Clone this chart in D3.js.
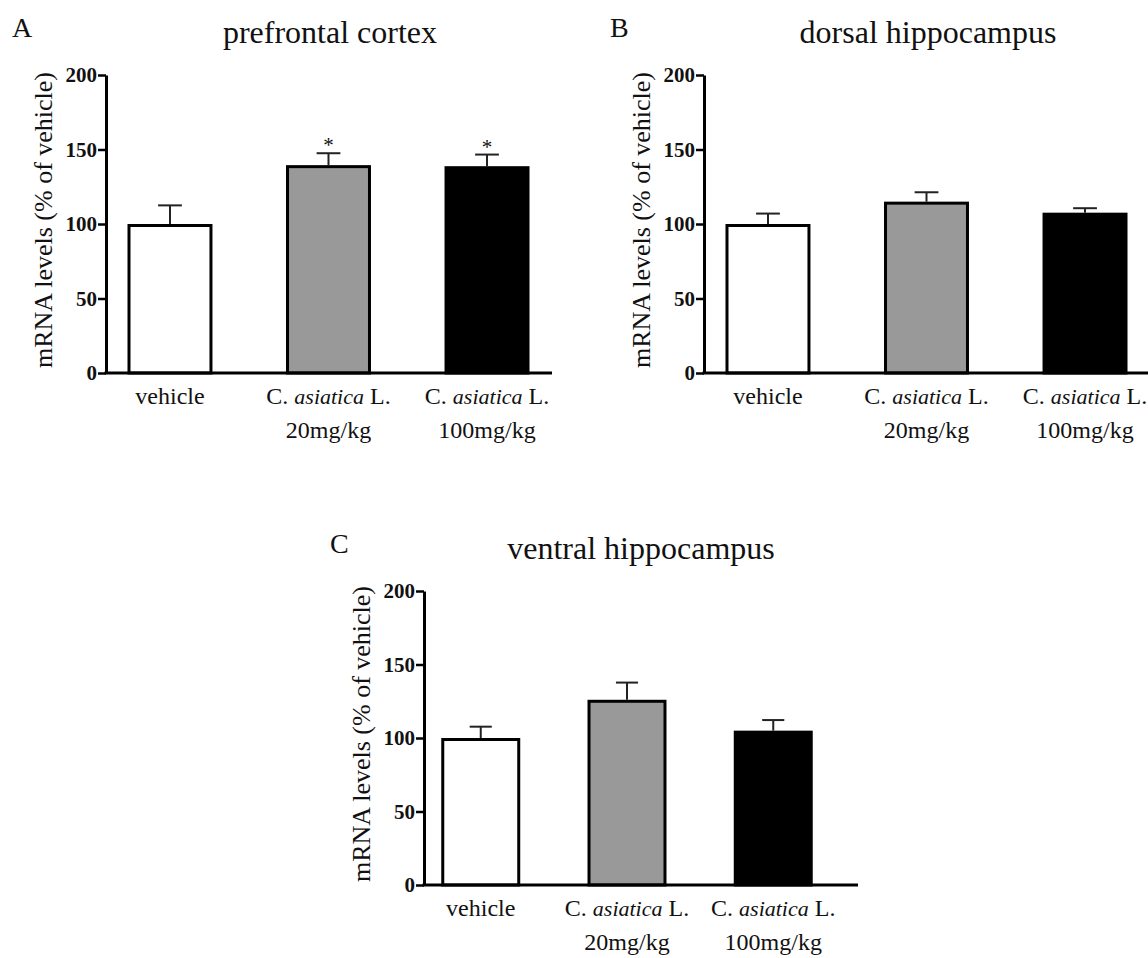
<!DOCTYPE html>
<html>
<head>
<meta charset="utf-8">
<script src="https://cdn.jsdelivr.net/npm/d3@7"></script>
<style>
  html, body { margin: 0; padding: 0; background: #fff; }
  svg { display: block; }
  text { font-family: "Liberation Serif", "Times New Roman", serif; fill: #111; }
</style>
</head>
<body>
<svg id="chart" width="1148" height="958"></svg>
<script>
// ---------- data ----------
const categories = ["vehicle", "C. asiatica L. 20mg/kg", "C. asiatica L. 100mg/kg"];
const labelLine1 = [
  [{ t: "vehicle" }],
  [{ t: "C. " }, { t: "asiatica", italic: true }, { t: " L." }],
  [{ t: "C. " }, { t: "asiatica", italic: true }, { t: " L." }]
];
const labelLine2 = ["", "20mg/kg", "100mg/kg"];
const barFills = ["#ffffff", "#999999", "#000000"];
const yTicks = [0, 50, 100, 150, 200];
const yAxisTitle = "mRNA levels (% of vehicle)";

const prefrontalMean = [100, 139.5, 138.8];
const prefrontalSem  = [12.5, 8.0, 7.8];
const prefrontalSig  = ["", "*", "*"];

const dorsalMean = [100, 115, 107.6];
const dorsalSem  = [7.0, 6.3, 3.0];
const dorsalSig  = ["", "", ""];

const ventralMean = [100, 126, 105];
const ventralSem  = [7.7, 11.7, 7.2];
const ventralSig  = ["", "", ""];

// ---------- layout ----------
const panels = [
  { letter: "A", title: "prefrontal cortex", mean: prefrontalMean, sem: prefrontalSem, sig: prefrontalSig,
    x0: 106, yTop: 75, yBottom: 373, rangeW: 445, axisW: 446, titleC: 224, padInner: 0.464, padOuter: 0.1356 },
  { letter: "B", title: "dorsal hippocampus", mean: dorsalMean, sem: dorsalSem, sig: dorsalSig,
    x0: 704, yTop: 75, yBottom: 373, rangeW: 445, axisW: 450, titleC: 224, padInner: 0.464, padOuter: 0.1356 },
  { letter: "C", title: "ventral hippocampus", mean: ventralMean, sem: ventralSem, sig: ventralSig,
    x0: 424, yTop: 591, yBottom: 885, rangeW: 406, axisW: 434, titleC: 217, padInner: 0.46, padOuter: 0.118 }
];

const svg = d3.select("#chart");
svg.append("rect").attr("width", 1148).attr("height", 958).attr("fill", "#fff");

panels.forEach(p => {
  const g = svg.append("g").attr("transform", `translate(${p.x0},0)`);

  const x = d3.scaleBand().domain(categories).range([0, p.rangeW])
    .paddingInner(p.padInner).paddingOuter(p.padOuter);
  const y = d3.scaleLinear().domain([0, 200]).range([p.yBottom, p.yTop]);
  const bw = x.bandwidth();
  const sw = 3;

  // bars
  g.selectAll("rect.bar").data(categories).join("rect")
    .attr("class", "bar")
    .attr("x", d => x(d) + sw / 2)
    .attr("width", bw - sw)
    .attr("y", (d, i) => y(p.mean[i]) + sw / 2)
    .attr("height", (d, i) => y(0) - y(p.mean[i]) - sw / 2)
    .attr("fill", (d, i) => barFills[i])
    .attr("stroke", "#000")
    .attr("stroke-width", sw);

  // error bars (upper only)
  const capHalf = bw * 0.14;
  categories.forEach((c, i) => {
    const cx = x(c) + bw / 2;
    g.append("line")
      .attr("x1", cx).attr("x2", cx)
      .attr("y1", y(p.mean[i])).attr("y2", y(p.mean[i] + p.sem[i]))
      .attr("stroke", "#222").attr("stroke-width", 2);
    g.append("line")
      .attr("x1", cx - capHalf).attr("x2", cx + capHalf)
      .attr("y1", y(p.mean[i] + p.sem[i])).attr("y2", y(p.mean[i] + p.sem[i]))
      .attr("stroke", "#222").attr("stroke-width", 2);
    if (p.sig[i]) {
      g.append("text")
        .attr("x", cx).attr("y", y(p.mean[i] + p.sem[i]) - 1)
        .attr("text-anchor", "middle")
        .attr("font-size", 21)
        .text(p.sig[i]);
    }
  });

  // y axis
  const yAxis = d3.axisLeft(y).tickValues(yTicks).tickSize(8).tickSizeOuter(0).tickPadding(1);
  const ya = g.append("g").call(yAxis);
  ya.select(".domain").attr("stroke", "#000").attr("stroke-width", 3);
  ya.selectAll(".tick line").attr("stroke", "#000").attr("stroke-width", 2.5);
  ya.selectAll(".tick text")
    .attr("font-family", "'Liberation Serif', 'Times New Roman', serif")
    .attr("font-size", 21).attr("font-weight", "bold").attr("fill", "#111");

  // x axis line
  g.append("line")
    .attr("x1", -1.5).attr("x2", p.axisW)
    .attr("y1", y(0)).attr("y2", y(0))
    .attr("stroke", "#000").attr("stroke-width", 3);

  // category labels
  categories.forEach((c, i) => {
    const cx = x(c) + bw / 2;
    const t1 = g.append("text")
      .attr("x", cx).attr("y", y(0) + 31)
      .attr("text-anchor", "middle").attr("font-size", 24);
    labelLine1[i].forEach(part => {
      t1.append("tspan")
        .attr("font-style", part.italic ? "italic" : "normal")
        .attr("font-size", part.italic ? 22 : 24)
        .text(part.t);
    });
    if (labelLine2[i]) {
      g.append("text")
        .attr("x", cx).attr("y", y(0) + 65)
        .attr("text-anchor", "middle").attr("font-size", 24)
        .text(labelLine2[i]);
    }
  });

  // y axis title
  const ymid = (p.yTop + p.yBottom) / 2 - 4;
  g.append("text")
    .attr("transform", `translate(${-63},${ymid}) rotate(-90)`)
    .attr("text-anchor", "middle")
    .attr("dominant-baseline", "central")
    .attr("font-size", 26)
    .text(yAxisTitle);

  // panel title
  g.append("text")
    .attr("x", p.titleC)
    .attr("y", p.yTop - 32)
    .attr("text-anchor", "middle")
    .attr("font-size", 32)
    .text(p.title);

  // panel letter
  g.append("text")
    .attr("x", -94).attr("y", p.yTop - 38)
    .attr("font-size", 28)
    .text(p.letter);
});
</script>
</body>
</html>
